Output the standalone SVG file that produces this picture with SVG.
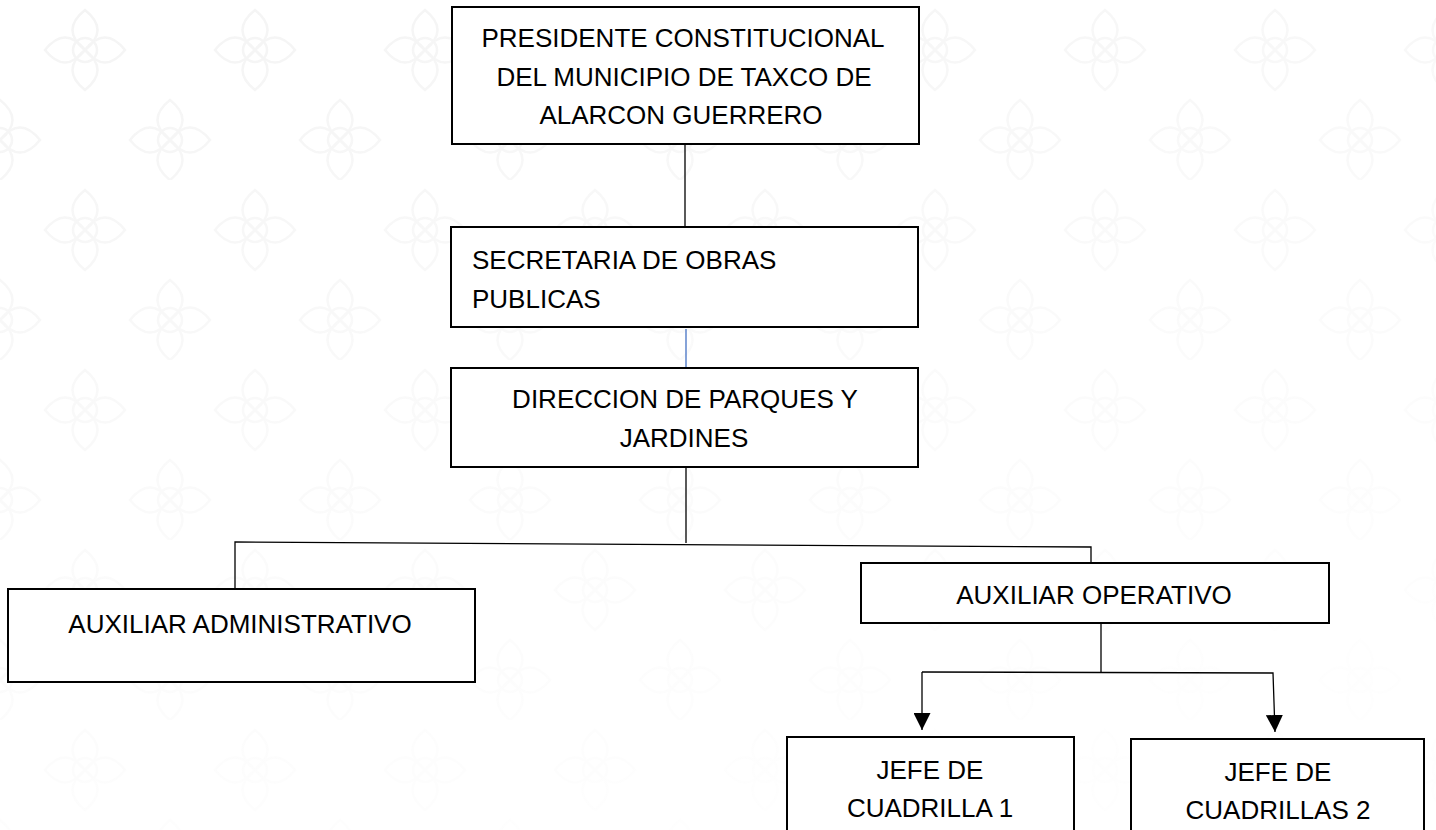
<svg xmlns="http://www.w3.org/2000/svg" width="1436" height="830" viewBox="0 0 1436 830">
  <style>
    .box { fill: #ffffff; stroke: #000000; stroke-width: 2; }
    .lbl { font-family: "Liberation Sans", Arial, sans-serif; font-size: 26px; fill: #000000; }
    .mid { text-anchor: middle; }
    .conn { fill: none; stroke: #000000; stroke-width: 1.3; }
    .blue { stroke: #4472c4; }
    .bgp { fill: none; stroke: #f4f4f4; stroke-width: 2.5; }
  </style>
  <defs>
    <marker id="arrow" viewBox="0 0 10 10" refX="10" refY="5" markerWidth="17" markerHeight="17" markerUnits="userSpaceOnUse" orient="auto">
      <path d="M0,0 L10,5 L0,10 Z" fill="#000000"/>
    </marker>
    <pattern id="floral" width="170" height="180" patternUnits="userSpaceOnUse">
      <g class="bgp">
        <circle cx="85" cy="50" r="12"/>
        <path d="M85,10 Q110,30 85,50 Q60,30 85,10 Z"/>
        <path d="M85,90 Q110,70 85,50 Q60,70 85,90 Z"/>
        <path d="M45,50 Q65,25 85,50 Q65,75 45,50 Z"/>
        <path d="M125,50 Q105,25 85,50 Q105,75 125,50 Z"/>
        <circle cx="0" cy="140" r="12"/>
        <circle cx="170" cy="140" r="12"/>
        <path d="M0,100 Q25,120 0,140 Q-25,120 0,100 Z"/>
        <path d="M170,100 Q195,120 170,140 Q145,120 170,100 Z"/>
        <path d="M0,180 Q25,160 0,140 Q-25,160 0,180 Z"/>
        <path d="M170,180 Q195,160 170,140 Q145,160 170,180 Z"/>
        <path d="M40,140 Q20,115 0,140 Q20,165 40,140 Z"/>
        <path d="M130,140 Q150,115 170,140 Q150,165 130,140 Z"/>
      </g>
    </pattern>
    <linearGradient id="fade" x1="0" y1="0" x2="0.4" y2="1">
      <stop offset="0" stop-color="#ffffff" stop-opacity="0"/>
      <stop offset="0.6" stop-color="#ffffff" stop-opacity="0.6"/>
      <stop offset="1" stop-color="#ffffff" stop-opacity="0.9"/>
    </linearGradient>
  </defs>
  <rect x="0" y="0" width="1436" height="830" fill="#ffffff"/>
  <rect x="0" y="0" width="1436" height="830" fill="url(#floral)"/>
  <rect x="0" y="0" width="1436" height="830" fill="url(#fade)"/>

  <g id="connectors">
    <line class="conn" x1="685" y1="144" x2="685" y2="227"/>
    <line class="conn blue" x1="686" y1="329" x2="686" y2="368"/>
    <line class="conn" x1="686" y1="467" x2="686" y2="543"/>
    <polyline class="conn" points="235,588 235,542 1091,547 1091,563"/>
    <line class="conn" x1="1101" y1="623" x2="1101" y2="672"/>
    <polyline class="conn" points="922,672 1273,673 1275,732" marker-end="url(#arrow)"/>
    <line class="conn" x1="922" y1="672" x2="922" y2="730" marker-end="url(#arrow)"/>
  </g>

  <g id="node-presidente">
    <rect class="box" x="452" y="7" width="467" height="137"/>
    <text class="lbl mid" x="683" y="47">PRESIDENTE CONSTITUCIONAL</text>
    <text class="lbl mid" x="684" y="86">DEL MUNICIPIO DE TAXCO DE</text>
    <text class="lbl mid" x="681" y="124">ALARCON GUERRERO</text>
  </g>

  <g id="node-secretaria">
    <rect class="box" x="451" y="227" width="467" height="100"/>
    <text class="lbl" x="472" y="269">SECRETARIA DE OBRAS</text>
    <text class="lbl" x="472" y="308">PUBLICAS</text>
  </g>

  <g id="node-direccion">
    <rect class="box" x="451" y="368" width="467" height="99"/>
    <text class="lbl mid" x="685" y="408">DIRECCION DE PARQUES Y</text>
    <text class="lbl mid" x="684" y="447">JARDINES</text>
  </g>

  <g id="node-aux-admin">
    <rect class="box" x="8" y="589" width="467" height="93"/>
    <text class="lbl mid" x="240" y="633">AUXILIAR ADMINISTRATIVO</text>
  </g>

  <g id="node-aux-operativo">
    <rect class="box" x="861" y="563" width="468" height="60"/>
    <text class="lbl mid" x="1094" y="604">AUXILIAR OPERATIVO</text>
  </g>

  <g id="node-jefe-1">
    <rect class="box" x="787" y="737" width="287" height="100"/>
    <text class="lbl mid" x="930" y="779">JEFE DE</text>
    <text class="lbl mid" x="930" y="817">CUADRILLA 1</text>
  </g>

  <g id="node-jefe-2">
    <rect class="box" x="1131" y="739" width="293" height="100"/>
    <text class="lbl mid" x="1278" y="781">JEFE DE</text>
    <text class="lbl mid" x="1278" y="819">CUADRILLAS 2</text>
  </g>
</svg>
